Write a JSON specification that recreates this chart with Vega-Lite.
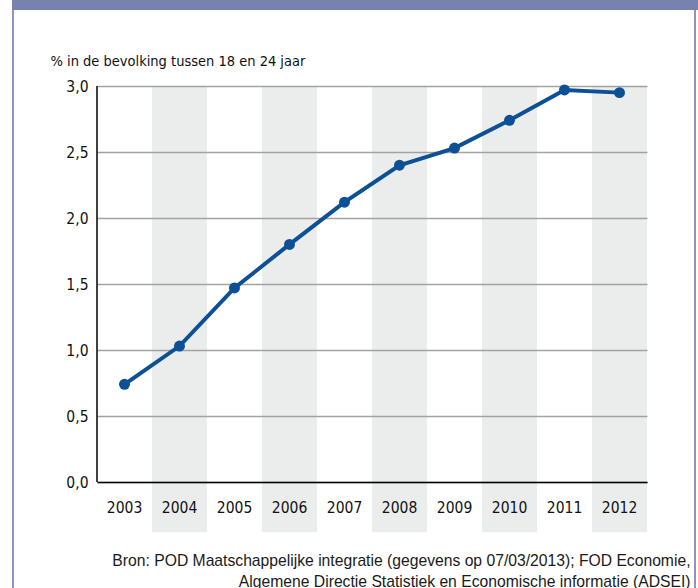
{
  "$schema": "https://vega.github.io/schema/vega-lite/v6.json",
  "padding": 0,
  "autosize": {"type": "pad"},
  "background": "white",
  "spacing": 0,
  "bounds": "flush",
  "config": {
    "view": {"stroke": null},
    "concat": {"spacing": 0},
    "axis": {"labelFont": "DejaVu Sans Condensed", "titleFont": "DejaVu Sans Condensed"}
  },
  "datasets": {
    "pct": [
      {"year": 2003, "value": 0.74},
      {"year": 2004, "value": 1.03},
      {"year": 2005, "value": 1.47},
      {"year": 2006, "value": 1.8},
      {"year": 2007, "value": 2.12},
      {"year": 2008, "value": 2.4},
      {"year": 2009, "value": 2.53},
      {"year": 2010, "value": 2.74},
      {"year": 2011, "value": 2.97},
      {"year": 2012, "value": 2.95}
    ],
    "blank": [{"k": 1}]
  },
  "hconcat": [
    {"width": 12, "height": 588, "data": {"name": "blank"}, "mark": {"type": "point", "opacity": 0}, "encoding": {}},
    {
      "spacing": 0,
      "bounds": "flush",
      "vconcat": [
        {"width": 686, "height": 10, "view": {"fill": "#7882AE", "stroke": null}, "data": {"name": "blank"}, "mark": {"type": "point", "opacity": 0}, "encoding": {}},
        {
          "spacing": 0,
          "bounds": "flush",
          "hconcat": [
            {"width": 2, "height": 578, "view": {"fill": "#8E96C0", "stroke": null}, "data": {"name": "blank"}, "mark": {"type": "point", "opacity": 0}, "encoding": {}},
            {"width": 83, "height": 578, "data": {"name": "blank"}, "mark": {"type": "point", "opacity": 0}, "encoding": {}},
            {
              "width": 550,
              "height": 472,
              "data": {"name": "pct"},
              "encoding": {
                "x": {
                  "field": "year",
                  "type": "ordinal",
                  "scale": {"type": "band", "paddingInner": 0, "paddingOuter": 0},
                  "axis": {
                    "title": ["Bron: POD Maatschappelijke integratie (gegevens op 07/03/2013); FOD Economie,", "Algemene Directie Statistiek en Economische informatie (ADSEI)"],
                    "titleX": 593,
                    "titleY": 83,
                    "titleAlign": "right",
                    "titleAnchor": "end",
                    "titleBaseline": "alphabetic",
                    "titleFont": "Liberation Sans",
                    "titleFontSize": 15.7,
                    "titleFontWeight": "normal",
                    "titleLineHeight": 21,
                    "titleColor": "#1a1a1a",
                    "labelAngle": 0,
                    "labelFontSize": 15.5,
                    "labelPadding": 18,
                    "labelColor": "#111111",
                    "ticks": false,
                    "grid": false,
                    "domainColor": "#000000",
                    "domainWidth": 1.5
                  }
                }
              },
              "layer": [
                {
                  "transform": [{"filter": "datum.year % 2 == 0"}],
                  "mark": {"type": "rect", "fill": "#9BA5A5", "opacity": 0.2},
                  "encoding": {
                    "y": {"datum": 3, "type": "quantitative", "scale": {"domain": [0, 3.576], "nice": false, "zero": true}},
                    "y2": {"datum": -0.38}
                  }
                },
                {
                  "data": {"name": "blank"},
                  "mark": {"type": "rule", "color": "#000000", "strokeWidth": 1.5},
                  "encoding": {
                    "x": {"datum": 2003, "type": "ordinal", "bandPosition": 0},
                    "y": {"datum": 0, "type": "quantitative"},
                    "y2": {"datum": 3}
                  }
                },
                {
                  "mark": {"type": "line", "color": "#0D5096", "strokeWidth": 4},
                  "encoding": {
                    "y": {
                      "field": "value",
                      "type": "quantitative",
                      "scale": {"domain": [0, 3.576], "nice": false, "zero": true},
                      "axis": {
                        "title": "% in de bevolking tussen 18 en 24 jaar",
                        "titleAngle": 0,
                        "titleAlign": "left",
                        "titleBaseline": "alphabetic",
                        "titleX": -47,
                        "titleY": 55,
                        "titleFontSize": 14.5,
                        "titleFontWeight": "normal",
                        "titleColor": "#111111",
                        "values": [0, 0.5, 1, 1.5, 2, 2.5, 3],
                        "labelExpr": "replace(format(datum.value, '.1f'), '.', ',')",
                        "labelFontSize": 15.5,
                        "labelColor": "#111111",
                        "labelPadding": 9,
                        "ticks": false,
                        "domain": false,
                        "grid": true,
                        "gridColor": "#A3A3A3",
                        "gridWidth": 1.5
                      }
                    }
                  }
                },
                {
                  "mark": {"type": "circle", "color": "#0D5096", "size": 120, "opacity": 1},
                  "encoding": {"y": {"field": "value", "type": "quantitative"}}
                }
              ]
            },
            {"width": 47, "height": 578, "data": {"name": "blank"}, "mark": {"type": "point", "opacity": 0}, "encoding": {}},
            {"width": 2, "height": 578, "view": {"fill": "#8E96C0", "stroke": null}, "data": {"name": "blank"}, "mark": {"type": "point", "opacity": 0}, "encoding": {}},
            {"width": 2, "height": 578, "data": {"name": "blank"}, "mark": {"type": "point", "opacity": 0}, "encoding": {}}
          ]
        }
      ]
    }
  ]
}
